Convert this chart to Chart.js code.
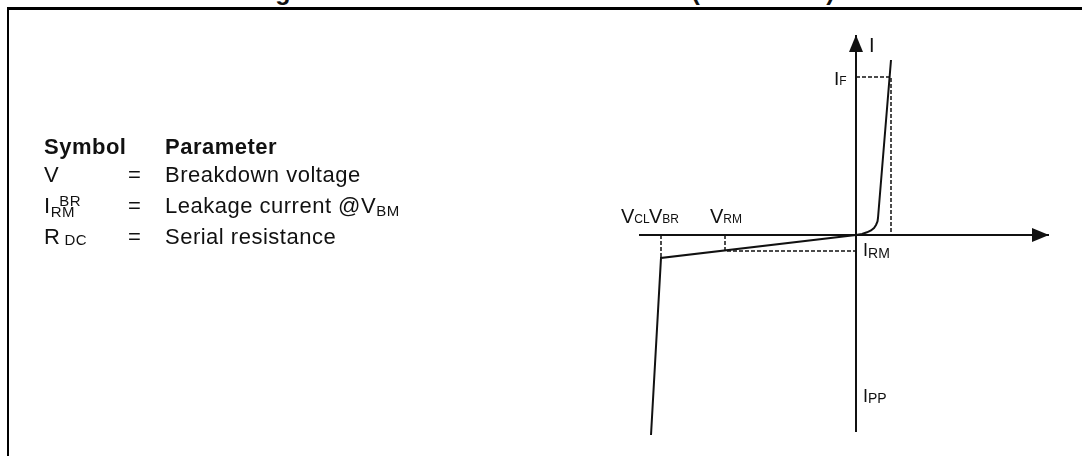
<!DOCTYPE html>
<html>
<head>
<meta charset="utf-8">
<script src="https://cdn.jsdelivr.net/npm/chart.js@4/dist/chart.umd.min.js"></script>
<style>
    html, body { margin: 0; padding: 0; background: #fff; }
    body { width: 1082px; height: 456px; position: relative; overflow: hidden; font-family: "Liberation Sans", Arial, sans-serif; color: #111; }
    #frame { position: absolute; left: 7px; top: 7px; width: 1200px; height: 600px; border-left: 2px solid #000; border-top: 3px solid #000; }
    #chart { position: absolute; left: 0; top: 0; }
    .lbl { position: absolute; white-space: nowrap; line-height: 1; }
    .sub { position: relative; }
    .title { position: absolute; top: -21px; font-size: 25px; font-weight: bold; line-height: 1; white-space: nowrap; }
    .tbl { position: absolute; font-size: 22px; letter-spacing: 0.5px; line-height: 1; white-space: nowrap; }
</style>
</head>
<body>
<div class="title" style="left:253px">Figure 3.</div>
<div class="title" style="left:390px">Electrical characteristics (definitions)</div>
<div id="frame"></div>
<canvas id="chart" width="1082" height="456"></canvas>

<!-- Symbol / parameter table -->
<div class="tbl" style="left:44px;top:136px;font-weight:bold">Symbol</div>
<div class="tbl" style="left:165px;top:136px;font-weight:bold">Parameter</div>

<div class="tbl" style="left:44px;top:164px">V<span class="sub" style="font-size:15px;top:24px">BR</span></div>
<div class="tbl" style="left:128px;top:164px">=</div>
<div class="tbl" style="left:165px;top:164px">Breakdown voltage</div>

<div class="tbl" style="left:44px;top:195px">I<span class="sub" style="font-size:15px;top:4px">RM</span></div>
<div class="tbl" style="left:128px;top:195px">=</div>
<div class="tbl" style="left:165px;top:195px">Leakage current @V<span class="sub" style="font-size:15px;top:3px">BM</span></div>

<div class="tbl" style="left:44px;top:226px">R<span class="sub" style="font-size:15px;top:1px;margin-left:4px">DC</span></div>
<div class="tbl" style="left:128px;top:226px">=</div>
<div class="tbl" style="left:165px;top:226px">Serial resistance</div>

<!-- Diagram labels -->
<div class="lbl" style="left:869px;top:35px;font-size:20px">I</div>
<div class="lbl" style="left:834px;top:69px;font-size:19px">I<span class="sub" style="font-size:12px">F</span></div>
<div class="lbl" style="left:621px;top:206px;font-size:20px">V<span class="sub" style="font-size:12px">CL</span></div>
<div class="lbl" style="left:649px;top:206px;font-size:20px">V<span class="sub" style="font-size:12px">BR</span></div>
<div class="lbl" style="left:710px;top:206px;font-size:20px">V<span class="sub" style="font-size:12px">RM</span></div>
<div class="lbl" style="left:863px;top:241px;font-size:18px">I<span class="sub" style="font-size:14px;top:2px">RM</span></div>
<div class="lbl" style="left:863px;top:387px;font-size:18px">I<span class="sub" style="font-size:14px;top:1px">PP</span></div>

<script>
// Forward characteristic (V, I)
const forwardV = [0, 0.6, 1.1, 1.5, 1.8, 2.0, 2.15, 2.2, 3.5];
const forwardI = [0, 0.1, 0.27, 0.45, 0.7, 1.0, 1.35, 1.7, 17.5];

// Reverse characteristic: leakage slope then breakdown
const reverseV = [0, -19.5, -20.5];
const reverseI = [0, -2.3, -20.0];

// Definition points
const vBR = -19.5;
const vRM = -13.1;
const iRM = -1.6;
const iF = 15.8;
const vF = 3.5;

// Axis extents [start, tip]
const xAxisRange = [-21.7, 19.3];
const yAxisRange = [-19.7, 20.0];

const toPoints = (xs, ys) => xs.map((v, i) => ({ x: v, y: ys[i] }));

const solid = (data, width) => ({
    data: data,
    showLine: true,
    borderColor: '#111',
    borderWidth: width,
    pointRadius: 0,
    tension: 0,
    clip: false
});

const dashed = (data) => ({
    data: data,
    showLine: true,
    borderColor: '#111',
    borderWidth: 1.5,
    borderDash: [4, 2],
    pointRadius: 0,
    tension: 0,
    clip: false
});

// Arrow heads at the end of both axes
const axisArrows = {
    id: 'axisArrows',
    afterDatasetsDraw(chart) {
        const { ctx, scales: { x, y } } = chart;
        const x0 = x.getPixelForValue(0);
        const y0 = y.getPixelForValue(0);
        const xTip = x.getPixelForValue(xAxisRange[1]);
        const yTip = y.getPixelForValue(yAxisRange[1]);
        const len = 17;
        const half = 7;
        ctx.save();
        ctx.fillStyle = '#111';
        ctx.beginPath();
        ctx.moveTo(xTip, y0);
        ctx.lineTo(xTip - len, y0 - half);
        ctx.lineTo(xTip - len, y0 + half);
        ctx.closePath();
        ctx.fill();
        ctx.beginPath();
        ctx.moveTo(x0, yTip);
        ctx.lineTo(x0 - half, yTip + len);
        ctx.lineTo(x0 + half, yTip + len);
        ctx.closePath();
        ctx.fill();
        ctx.restore();
    }
};

const initChart = () => {
    const ctx = document.getElementById('chart').getContext('2d');

    const datasets = [
        // Axes
        solid([{ x: xAxisRange[0], y: 0 }, { x: xAxisRange[1], y: 0 }], 2),
        solid([{ x: 0, y: yAxisRange[0] }, { x: 0, y: yAxisRange[1] }], 2),
        // Definition guides
        dashed([{ x: 0, y: iF }, { x: vF, y: iF }, { x: vF, y: 0 }]),
        dashed([{ x: vRM, y: 0 }, { x: vRM, y: iRM }, { x: 0, y: iRM }]),
        dashed([{ x: vBR, y: 0 }, { x: vBR, y: reverseI[1] }]),
        // I-V curve
        solid(toPoints(forwardV, forwardI), 2),
        solid(toPoints(reverseV, reverseI), 2)
    ];

    new Chart(ctx, {
        type: 'scatter',
        data: { datasets: datasets },
        options: {
            responsive: false,
            devicePixelRatio: 1,
            animation: false,
            layout: { padding: { left: 606, right: 6, top: 15, bottom: 1 } },
            plugins: {
                legend: { display: false },
                tooltip: { enabled: false }
            },
            scales: {
                x: { type: 'linear', display: false, min: -25, max: 22 },
                y: { type: 'linear', display: false, min: -22, max: 22 }
            }
        },
        plugins: [axisArrows]
    });
};

document.addEventListener('DOMContentLoaded', initChart);
</script>
</body>
</html>
